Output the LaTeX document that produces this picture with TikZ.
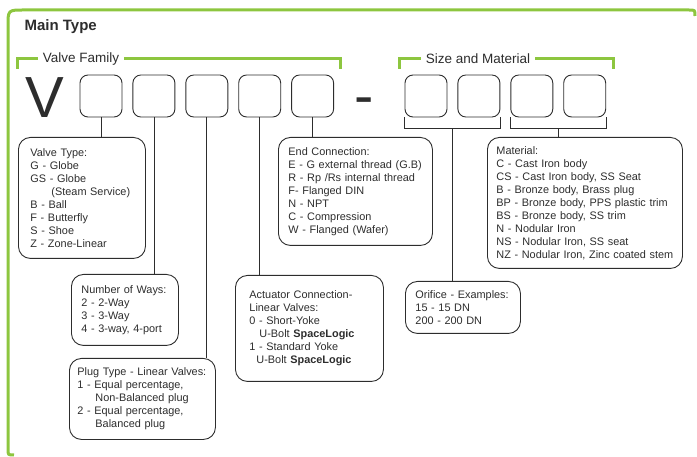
\documentclass[tikz,border=0pt]{standalone}
\usepackage{fontspec}
\setmainfont{Liberation Sans}
\usetikzlibrary{positioning,calc}
\definecolor{leaf}{RGB}{141,198,63}
\definecolor{ink}{RGB}{45,45,45}

\begin{document}
\begin{tikzpicture}[x=1pt,y=-1pt,node distance=10pt,
    every node/.style={text=ink},
    digit/.style={draw=ink,line width=0.9pt,rounded corners=8pt,minimum size=42pt,inner sep=0pt},
    infobox/.style={draw=ink,line width=0.9pt,rounded corners=12pt,anchor=north west,align=left,inner ysep=0pt,font=\fontsize{10.9}{13}\selectfont},
    wire/.style={draw=ink,line width=0.8pt},
    frame/.style={draw=leaf,line width=3pt},
    grouplabel/.style={fill=white,inner xsep=5pt,inner ysep=1pt,font=\fontsize{13.5}{16}\selectfont},
    bigchar/.style={anchor=base,inner sep=0pt,font=\fontsize{58}{60}\selectfont}]
  \useasboundingbox (0,0) rectangle (697,457);
  \draw[frame] (14,455) .. controls (8,455) .. (8,449) -- (8,26) .. controls (8,10) .. (24,10) -- (689,10) .. controls (695,10) .. (695,16);
  \node[anchor=west,font=\bfseries\fontsize{15}{18}\selectfont] (title) at (21,27) {Main Type};

  \draw[frame] (17,69) -- (17,59) -- (340,59) -- (340,69);
  \node[grouplabel] (famlabel) at (81,59) {Valve Family};
  \draw[frame] (399,69) -- (399,59) -- (613,59) -- (613,69);
  \node[grouplabel] (sizelabel) at (478,59) {Size and Material};

  \node[bigchar] (vee) at (45,118) {V};
  \node[digit] (f1) at (101,96) {};
  \node[digit,right=of f1] (f2) {};
  \node[digit,right=of f2] (f3) {};
  \node[digit,right=of f3] (f4) {};
  \node[digit,right=of f4] (f5) {};
  \node[bigchar] (dash) at (364,116) {-};
  \node[digit] (s1) at (426,96) {};
  \node[digit,right=of s1] (s2) {};
  \node[digit,right=of s2] (s3) {};
  \node[digit,right=of s3] (s4) {};

  \node[infobox,inner xsep=12pt,text width=103pt,minimum height=121pt] (vtype) at (18,137)
    {Valve Type:\\G - Globe\\GS - Globe\\\hspace*{21pt}(Steam Service)\\B - Ball\\F - Butterfly\\S - Shoe\\Z - Zone-Linear};
  \node[infobox,inner xsep=10pt,text width=87pt,minimum height=71pt] (ways) at (71,274)
    {Number of Ways:\\2 - 2-Way\\3 - 3-Way\\4 - 3-way, 4-port};
  \node[infobox,inner xsep=8pt,text width=130pt,minimum height=81pt] (plug) at (69,358)
    {Plug Type - Linear Valves:\\1 - Equal percentage,\\\hspace*{18pt}Non-Balanced plug\\2 - Equal percentage,\\\hspace*{18pt}Balanced plug};
  \node[infobox,inner xsep=14pt,text width=120pt,minimum height=106pt] (act) at (235,275)
    {Actuator Connection-\\Linear Valves:\\0 - Short-Yoke\\\hspace*{10pt}U-Bolt \textbf{SpaceLogic}\\1 - Standard Yoke\\\hspace*{7pt}U-Bolt \textbf{SpaceLogic}};
  \node[infobox,inner xsep=10pt,text width=134pt,minimum height=108pt] (endc) at (278,137)
    {End Connection:\\E - G external thread (G.B)\\R - Rp /Rs internal thread\\F- Flanged DIN\\N - NPT\\C - Compression\\W - Flanged (Wafer)};
  \node[infobox,inner xsep=9pt,text width=177pt,minimum height=131pt] (mat) at (487,137)
    {Material:\\C - Cast Iron body\\CS - Cast Iron body, SS Seat\\B - Bronze body, Brass plug\\BP - Bronze body, PPS plastic trim\\BS - Bronze body, SS trim\\N - Nodular Iron\\NS - Nodular Iron, SS seat\\NZ - Nodular Iron, Zinc coated stem};
  \node[infobox,inner xsep=10pt,text width=95pt,minimum height=52pt] (orif) at (405,281)
    {Orifice - Examples:\\15 - 15 DN\\200 - 200 DN};

  \draw[wire] (f1.south) -- (f1.south |- vtype.north);
  \draw[wire] (f2.south) -- (f2.south |- ways.north);
  \draw[wire] (f3.south) -- (f3.south |- plug.north);
  \draw[wire] (f4.south) -- (f4.south |- act.north);
  \draw[wire] (f5.south) -- (f5.south |- endc.north);
  \draw[wire] (s1.south west) -- ++(0,11) -| (s2.south east);
  \coordinate (orifbr) at ($(s1.south west)!0.5!(s2.south east)+(0,11)$);
  \draw[wire] (orifbr) -- (orifbr |- orif.north);
  \draw[wire] (s3.south west) -- ++(0,11) -| (s4.south east);
  \coordinate (matbr) at ($(s3.south west)!0.5!(s4.south east)+(0,11)$);
  \draw[wire] (matbr) -- (matbr |- mat.north);
\end{tikzpicture}
\end{document}
